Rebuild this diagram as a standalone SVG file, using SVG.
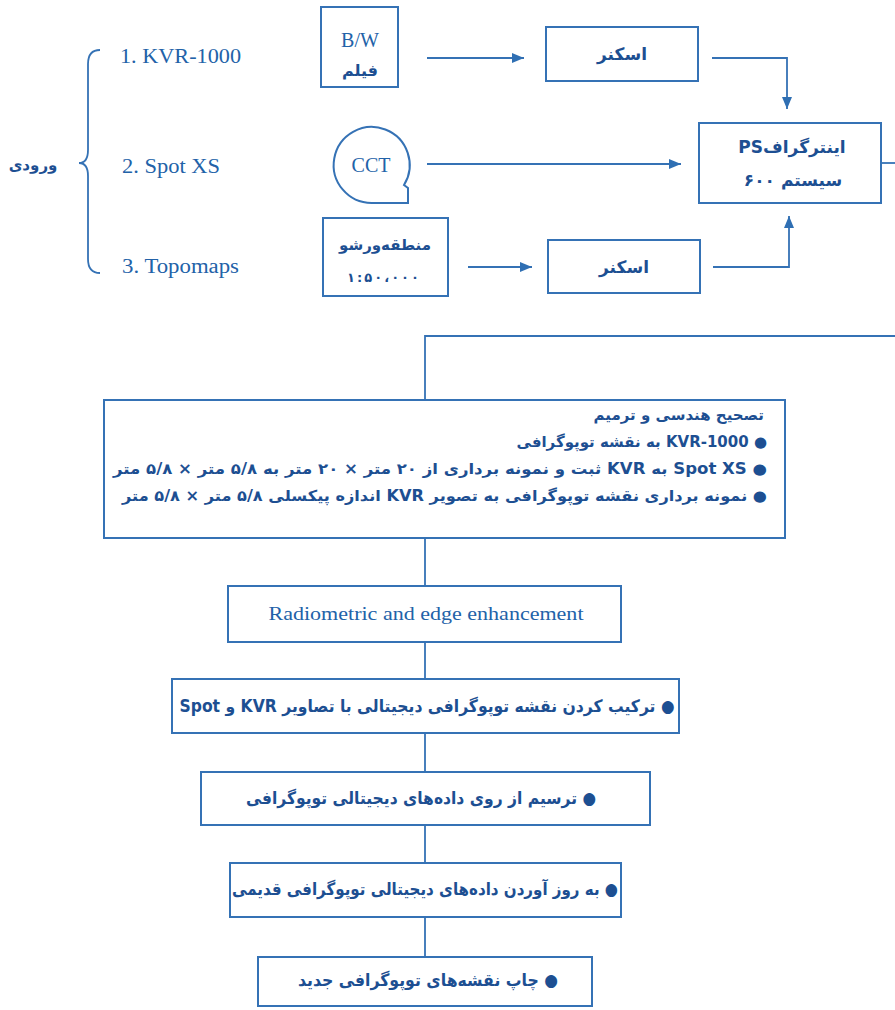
<svg xmlns="http://www.w3.org/2000/svg" width="895" height="1010" viewBox="0 0 895 1010">
<defs>
<marker id="ah" viewBox="0 0 12 10" refX="12" refY="5" markerWidth="12" markerHeight="10" markerUnits="userSpaceOnUse" orient="auto"><path d="M0,0 L12,5 L0,10 Z" fill="#2f6fb3"/></marker>
<style>
.box{fill:none;stroke:#3572b5;stroke-width:2}
.ln{fill:none;stroke:#3572b5;stroke-width:1.8}
.en{font-family:"Liberation Serif",serif;fill:#2262a8}
.fa{font-family:"DejaVu Sans",sans-serif;font-weight:bold;fill:#1d4f92}
.c{text-anchor:middle}
</style>
</defs>
<rect width="895" height="1010" fill="#ffffff"/>

<g id="inputs">
<text class="fa c" x="33" y="170" font-size="15" direction="rtl">ورودی</text>
<path class="ln" d="M100,50 Q88,50 88,64 L88,150 Q88,163 79,163 Q88,163 88,176 L88,259 Q88,273 100,273"/>
<text class="en" x="120" y="63" font-size="20" textLength="121" lengthAdjust="spacingAndGlyphs">1. KVR-1000</text>
<text class="en" x="122" y="173" font-size="20" textLength="98" lengthAdjust="spacingAndGlyphs">2. Spot XS</text>
<text class="en" x="122" y="273" font-size="20" textLength="117" lengthAdjust="spacingAndGlyphs">3. Topomaps</text>
</g>

<g id="bw">
<rect class="box" x="321" y="7" width="77" height="80"/>
<text class="en c" x="360" y="47" font-size="20">B/W</text>
<text class="fa c" x="360" y="76" font-size="16" direction="rtl">فیلم</text>
</g>

<g id="cct">
<path class="box" d="M372,203 A38,38 0 1 1 404,185 L408,188 L408,203 Z"/>
<text class="en c" x="371" y="172" font-size="20">CCT</text>
</g>

<g id="topo">
<rect class="box" x="323" y="218" width="125" height="78"/>
<text class="fa c" x="385" y="250" font-size="15" direction="rtl">منطقه‌ورشو</text>
<text class="fa c" x="383" y="282" font-size="13" textLength="72" lengthAdjust="spacing">۱:۵۰،۰۰۰</text>
</g>

<g id="scan1">
<rect class="box" x="546" y="27" width="152" height="54"/>
<text class="fa c" x="622" y="60" font-size="17" direction="rtl">اسکنر</text>
</g>

<g id="scan2">
<rect class="box" x="548" y="240" width="152" height="53"/>
<text class="fa c" x="624" y="273" font-size="17" direction="rtl">اسکنر</text>
</g>

<g id="ps">
<rect class="box" x="699" y="123" width="182" height="80"/>
<text class="fa c" x="792" y="153" font-size="17" direction="rtl">اینترگرافPS</text>
<text class="fa c" x="793" y="186" font-size="17" direction="rtl">سیستم ۶۰۰</text>
</g>

<g id="geo">
<rect class="box" x="104" y="400" width="681" height="138"/>
<text class="fa" x="764" y="420" font-size="15" direction="rtl" text-anchor="start">تصحیح هندسی و ترمیم</text>
<text class="fa" x="767" y="447" font-size="15" direction="rtl" text-anchor="start">● KVR-1000 به نقشه توپوگرافی</text>
<text class="fa" x="767" y="474" font-size="15" direction="rtl" text-anchor="start" textLength="654" lengthAdjust="spacingAndGlyphs">● Spot XS به KVR ثبت و نمونه برداری از ۲۰ متر × ۲۰ متر به ۵/۸ متر × ۵/۸ متر</text>
<text class="fa" x="767" y="501" font-size="15" direction="rtl" text-anchor="start" textLength="645" lengthAdjust="spacingAndGlyphs">● نمونه برداری نقشه توپوگرافی به تصویر KVR اندازه پیکسلی ۵/۸ متر × ۵/۸ متر</text>
</g>

<g id="rad">
<rect class="box" x="228" y="586" width="393" height="56"/>
<text class="en c" x="426" y="620" font-size="18" textLength="315" lengthAdjust="spacingAndGlyphs">Radiometric and edge enhancement</text>
</g>

<g id="comb">
<rect class="box" x="172" y="679" width="507" height="54"/>
<text class="fa c" x="427" y="712" font-size="17" direction="rtl" textLength="495" lengthAdjust="spacingAndGlyphs">● ترکیب کردن نقشه توپوگرافی دیجیتالی با تصاویر KVR و Spot</text>
</g>

<g id="draw">
<rect class="box" x="201" y="772" width="449" height="53"/>
<text class="fa c" x="421" y="804" font-size="17" direction="rtl" textLength="350" lengthAdjust="spacingAndGlyphs">● ترسیم از روی داده‌های دیجیتالی توپوگرافی</text>
</g>

<g id="upd">
<rect class="box" x="230" y="863" width="391" height="54"/>
<text class="fa c" x="425" y="895" font-size="17" direction="rtl" textLength="386" lengthAdjust="spacingAndGlyphs">● به روز آوردن داده‌های دیجیتالی توپوگرافی قدیمی</text>
</g>

<g id="print">
<rect class="box" x="258" y="957" width="334" height="49"/>
<text class="fa c" x="428" y="986" font-size="17" direction="rtl" textLength="260" lengthAdjust="spacingAndGlyphs">● چاپ نقشه‌های توپوگرافی جدید</text>
</g>

<g id="connectors">
<path class="ln" d="M427,58 H524" marker-end="url(#ah)"/>
<path class="ln" d="M712,58 H787 V109" marker-end="url(#ah)"/>
<path class="ln" d="M427,164 H681" marker-end="url(#ah)"/>
<path class="ln" d="M468,267 H532" marker-end="url(#ah)"/>
<path class="ln" d="M713,267 H789 V216" marker-end="url(#ah)"/>
<path class="ln" d="M881,163 H895"/>
<path class="ln" d="M895,336 H425 V400"/>
<path class="ln" d="M425,538 V586"/>
<path class="ln" d="M425,642 V679"/>
<path class="ln" d="M425,733 V772"/>
<path class="ln" d="M425,825 V863"/>
<path class="ln" d="M425,917 V957"/>
</g>
</svg>
